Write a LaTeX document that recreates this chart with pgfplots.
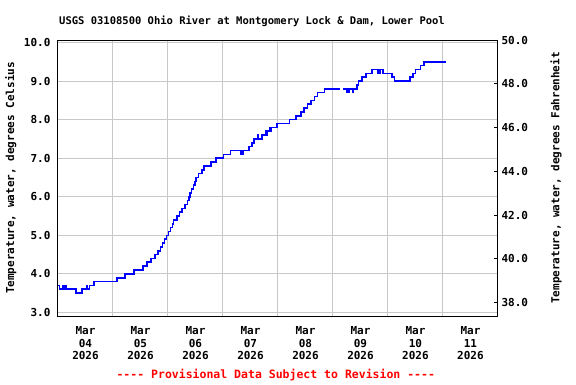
\documentclass[border=0pt]{standalone}
\usepackage{fontspec}
\setmonofont{DejaVu Sans Mono}
\usepackage{pgfplots}
\pgfplotsset{compat=1.18}
\definecolor{gridgray}{RGB}{200,200,200}
\definecolor{lineblue}{RGB}{0,0,255}
\definecolor{provred}{RGB}{255,0,0}
\newcommand{\ff}{\ttfamily\bfseries\fontsize{11}{12.7}\selectfont}
\newcommand{\fft}{\ttfamily\bfseries\fontsize{10.5}{12.7}\selectfont}
\newcommand{\ffr}{\ttfamily\bfseries\fontsize{11.5}{12.7}\selectfont}

\begin{document}
\begin{tikzpicture}
\useasboundingbox (-58pt,-68pt) rectangle (518pt,316pt);
\begin{axis}[
  scale only axis, width=440pt, height=276pt,
  at={(0pt,0pt)}, anchor=south west,
  xmin=0, xmax=8, ymin=2.907, ymax=10.065,
  axis line style={black, line width=1pt},
  xtick={0.5,1.5,2.5,3.5,4.5,5.5,6.5,7.5},
  xticklabels={{Mar\\04\\2026},{Mar\\05\\2026},{Mar\\06\\2026},{Mar\\07\\2026},{Mar\\08\\2026},{Mar\\09\\2026},{Mar\\10\\2026},{Mar\\11\\2026}},
  x tick label style={align=center, font=\ff, yshift=-7pt},
  minor xtick={1,2,3,4,5,6,7},
  xmajorgrids=false, xminorgrids=true,
  ytick={3,4,5,6,7,8,9,10}, ymajorgrids=true,
  grid style={gridgray, line width=1pt},
  minor grid style={gridgray, line width=1pt},
  major tick length=0pt, minor tick length=0pt,
  xtick pos=bottom, ytick pos=left,
  /pgf/number format/assume math mode=true,
  yticklabel style={/pgf/number format/.cd, fixed, fixed zerofill, precision=1, /tikz/.cd, font=\ff, xshift=-4pt},
  ylabel={Temperature, water, degrees Celsius},
  ylabel style={font=\ff, at={(axis description cs:-0.107,0.5)}, anchor=center},
  title={USGS 03108500 Ohio River at Montgomery Lock \& Dam, Lower Pool},
  title style={font=\fft, at={(axis description cs:0.441,1.047)}, anchor=center, yshift=0pt},
  xlabel={---- Provisional Data Subject to Revision ----},
  xlabel style={font=\ffr, text=provred, at={(axis description cs:0.495,-0.214)}, anchor=center},
]
\addplot[const plot, draw=lineblue, line width=1.6pt, line join=miter] coordinates {
(0,3.7) (0.024,3.6) (0.084,3.7) (0.10,3.6) (0.12,3.7) (0.146,3.6)
(0.328,3.5) (0.431,3.6) (0.52,3.7) (0.535,3.6) (0.571,3.7) (0.65,3.8)
(1.077,3.9) (1.223,4.0) (1.380,4.1) (1.544,4.2) (1.622,4.3) (1.689,4.4)
(1.762,4.5) (1.823,4.6) (1.866,4.7) (1.903,4.8) (1.939,4.9) (1.976,5.0)
(2.012,5.1) (2.049,5.2) (2.079,5.3) (2.097,5.4) (2.159,5.5) (2.207,5.6)
(2.250,5.7) (2.311,5.8) (2.353,5.9) (2.378,6.0) (2.402,6.1) (2.426,6.2)
(2.463,6.3) (2.488,6.4) (2.512,6.5) (2.554,6.6) (2.616,6.7) (2.658,6.8)
(2.781,6.9) (2.878,7.0) (3.011,7.1) (3.133,7.2)
(3.32,7.1) (3.33,7.2) (3.34,7.1) (3.35,7.2) (3.36,7.1) (3.37,7.2)
(3.478,7.3) (3.522,7.4) (3.564,7.5) (3.625,7.6) (3.635,7.5) (3.704,7.6)
(3.783,7.7) (3.80,7.6) (3.81,7.7) (3.856,7.8) (3.87,7.7) (3.88,7.8)
(3.978,7.9) (4.208,8.0) (4.325,8.1) (4.416,8.2) (4.476,8.3) (4.536,8.4)
(4.604,8.5) (4.664,8.6) (4.719,8.7) (4.847,8.8) (5.133,8.8)
};
\addplot[const plot, draw=lineblue, line width=1.6pt, line join=miter] coordinates {
(5.182,8.8) (5.243,8.7) (5.251,8.8) (5.292,8.7) (5.300,8.8) (5.358,8.7) (5.366,8.8)
(5.438,8.9) (5.467,9.0) (5.530,9.1) (5.600,9.2) (5.712,9.3) (5.821,9.2)
(5.850,9.3) (5.905,9.2) (6.077,9.1) (6.119,9.0) (6.398,9.1) (6.460,9.2)
(6.502,9.3) (6.544,9.3) (6.593,9.4) (6.654,9.5) (7.062,9.5)
};
\end{axis}
\begin{axis}[
  scale only axis, width=440pt, height=276pt,
  at={(0pt,0pt)}, anchor=south west,
  xmin=0, xmax=8, ymin=37.39, ymax=50,
  xtick=\empty,
  axis line style={black, line width=1pt},
  ytick={38,40,42,44,46,48,50}, ytick pos=right,
  tick align=inside, major tick length=4pt,
  tick style={black, line width=1pt},
  /pgf/number format/assume math mode=true,
  yticklabel style={/pgf/number format/.cd, fixed, fixed zerofill, precision=1, /tikz/.cd, font=\ff},
  ylabel={Temperature, water, degrees Fahrenheit},
  ylabel style={font=\ff, at={(axis description cs:1.132,0.5)}, anchor=center, rotate=0},
]
\addplot[draw=none] coordinates {(0,40)};
\end{axis}
\end{tikzpicture}
\end{document}
